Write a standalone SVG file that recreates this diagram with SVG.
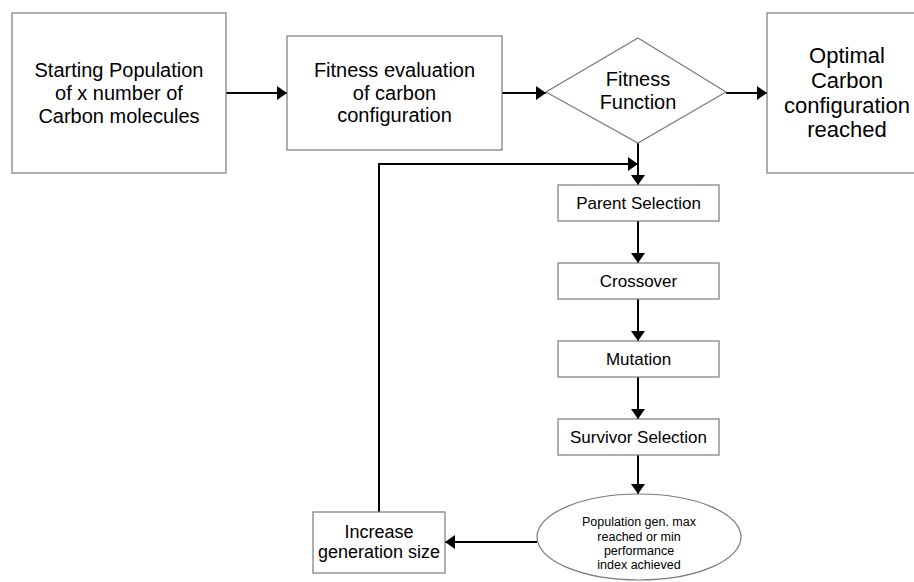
<svg xmlns="http://www.w3.org/2000/svg" width="914" height="582" viewBox="0 0 914 582">
<defs>
<style>
.box{fill:#fff;stroke:#7a7a7a;stroke-width:1.2}
.t{font-family:"Liberation Sans",Arial,sans-serif;fill:#000;text-anchor:middle}
.c{fill:none;stroke:#000;stroke-width:2}
</style>
<marker id="ah" viewBox="0 0 10 14" refX="10" refY="7" markerWidth="10" markerHeight="14" markerUnits="userSpaceOnUse" orient="auto">
<path d="M0,0 L10,7 L0,14 z" fill="#000"/>
</marker>
</defs>
<rect width="914" height="582" fill="#fff"/>
<g id="connectors">
<path class="c" d="M226,93 H287" marker-end="url(#ah)"/>
<path class="c" d="M502,93 H546" marker-end="url(#ah)"/>
<path class="c" d="M726,93 H767" marker-end="url(#ah)"/>
<path class="c" d="M638,143 V185" marker-end="url(#ah)"/>
<path class="c" d="M379,512 V164 H638" marker-end="url(#ah)"/>
<path class="c" d="M638,221 V263" marker-end="url(#ah)"/>
<path class="c" d="M638,299 V341" marker-end="url(#ah)"/>
<path class="c" d="M638,377 V419" marker-end="url(#ah)"/>
<path class="c" d="M638,455 V494" marker-end="url(#ah)"/>
<path class="c" d="M537,542 H445" marker-end="url(#ah)"/>
</g>
<g id="start">
<rect class="box" x="12" y="13" width="214" height="160"/>
<text class="t" font-size="20" x="119" y="77">Starting Population</text>
<text class="t" font-size="20" x="119" y="100">of x number of</text>
<text class="t" font-size="20" x="119" y="123">Carbon molecules</text>
</g>
<g id="evaluation">
<rect class="box" x="287" y="36" width="215" height="114"/>
<text class="t" font-size="20" x="394.5" y="77">Fitness evaluation</text>
<text class="t" font-size="20" x="394.5" y="100">of carbon</text>
<text class="t" font-size="20" x="394.5" y="122">configuration</text>
</g>
<g id="fitness">
<polygon class="box" points="638,38 726,92 638,143 546,92"/>
<text class="t" font-size="20" x="638" y="86">Fitness</text>
<text class="t" font-size="20" x="638" y="109">Function</text>
</g>
<g id="optimal">
<rect class="box" x="767" y="13" width="170" height="160"/>
<text class="t" font-size="22" x="847" y="63">Optimal</text>
<text class="t" font-size="22" x="847" y="88">Carbon</text>
<text class="t" font-size="22" x="847" y="113">configuration</text>
<text class="t" font-size="22" x="847" y="137">reached</text>
</g>
<g id="parent">
<rect class="box" x="558" y="185" width="161" height="36"/>
<text class="t" font-size="17" x="638.5" y="209">Parent Selection</text>
</g>
<g id="crossover">
<rect class="box" x="558" y="263" width="161" height="36"/>
<text class="t" font-size="17" x="638.5" y="287">Crossover</text>
</g>
<g id="mutation">
<rect class="box" x="558" y="341" width="161" height="36"/>
<text class="t" font-size="17" x="638.5" y="365">Mutation</text>
</g>
<g id="survivor">
<rect class="box" x="558" y="419" width="161" height="36"/>
<text class="t" font-size="17" x="638.5" y="443">Survivor Selection</text>
</g>
<g id="check">
<ellipse class="box" cx="639" cy="537" rx="102" ry="43"/>
<text class="t" font-size="12.5" x="639" y="526">Population gen. max</text>
<text class="t" font-size="12.5" x="639" y="541">reached or min</text>
<text class="t" font-size="12.5" x="639" y="555">performance</text>
<text class="t" font-size="12.5" x="639" y="569">index achieved</text>
</g>
<g id="increase">
<rect class="box" x="313" y="512" width="132" height="61"/>
<text class="t" font-size="18" x="379" y="538">Increase</text>
<text class="t" font-size="18" x="379" y="558">generation size</text>
</g>
</svg>
